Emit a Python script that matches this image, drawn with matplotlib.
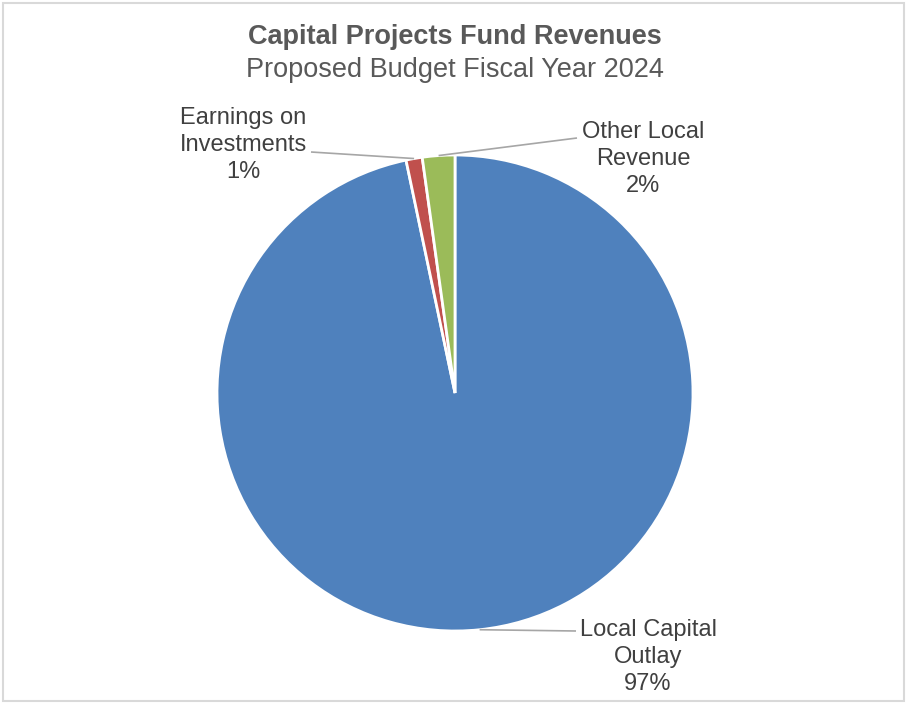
import numpy as np
import matplotlib.pyplot as plt
from matplotlib.patches import Rectangle

plt.rcParams['font.family'] = ['Liberation Sans', 'DejaVu Sans']

# Revenue shares (percent of total)
categories = ['Local Capital\nOutlay', 'Earnings on\nInvestments', 'Other Local\nRevenue']
shares = [96.7, 1.1, 2.2]
colors = ['#4f81bd', '#c0504d', '#9bbb59']

W, H = 907, 704
fig = plt.figure(figsize=(W / 100, H / 100), dpi=100)
ax = fig.add_axes([0, 0, 1, 1])

cx, cy, r = 455, H - 393, 238
wedges, _ = ax.pie(shares, colors=colors, startangle=90, counterclock=False,
                   center=(cx, cy), radius=r, frame=True,
                   wedgeprops=dict(edgecolor='white', linewidth=2))
ax.set_xlim(0, W)
ax.set_ylim(0, H)
ax.set_aspect('equal')
ax.axis('off')

# label block centres and where the leader line meets the text
label_pos = [(648, H - 657), (243, H - 145), (643, H - 159)]
line_end = [(576, H - 631), (311, H - 152), (577, H - 138)]

for w, name, val, (tx, ty), (lx, ly) in zip(wedges, categories, shares, label_pos, line_end):
    mid = np.deg2rad((w.theta1 + w.theta2) / 2)
    px, py = cx + r * np.cos(mid), cy + r * np.sin(mid)
    ax.plot([px, lx], [py, ly], color='#a6a6a6', lw=1.2, solid_capstyle='butt')
    ax.text(tx, ty, f'{name}\n{round(val):.0f}%', ha='center', va='center',
            fontsize=17, color='#404040', linespacing=1.28)

ax.text(cx, H - 37, 'Capital Projects Fund Revenues', ha='center', va='center',
        fontsize=19.5, fontweight='bold', color='#595959')
ax.text(cx, H - 70, 'Proposed Budget Fiscal Year 2024', ha='center', va='center',
        fontsize=19.5, color='#595959')

fig.patches.append(Rectangle((0.003, 0.004), 0.994, 0.992, transform=fig.transFigure,
                             fill=False, edgecolor='#d9d9d9', lw=1.5))

fig.savefig('out.png', dpi=100, facecolor='white')
